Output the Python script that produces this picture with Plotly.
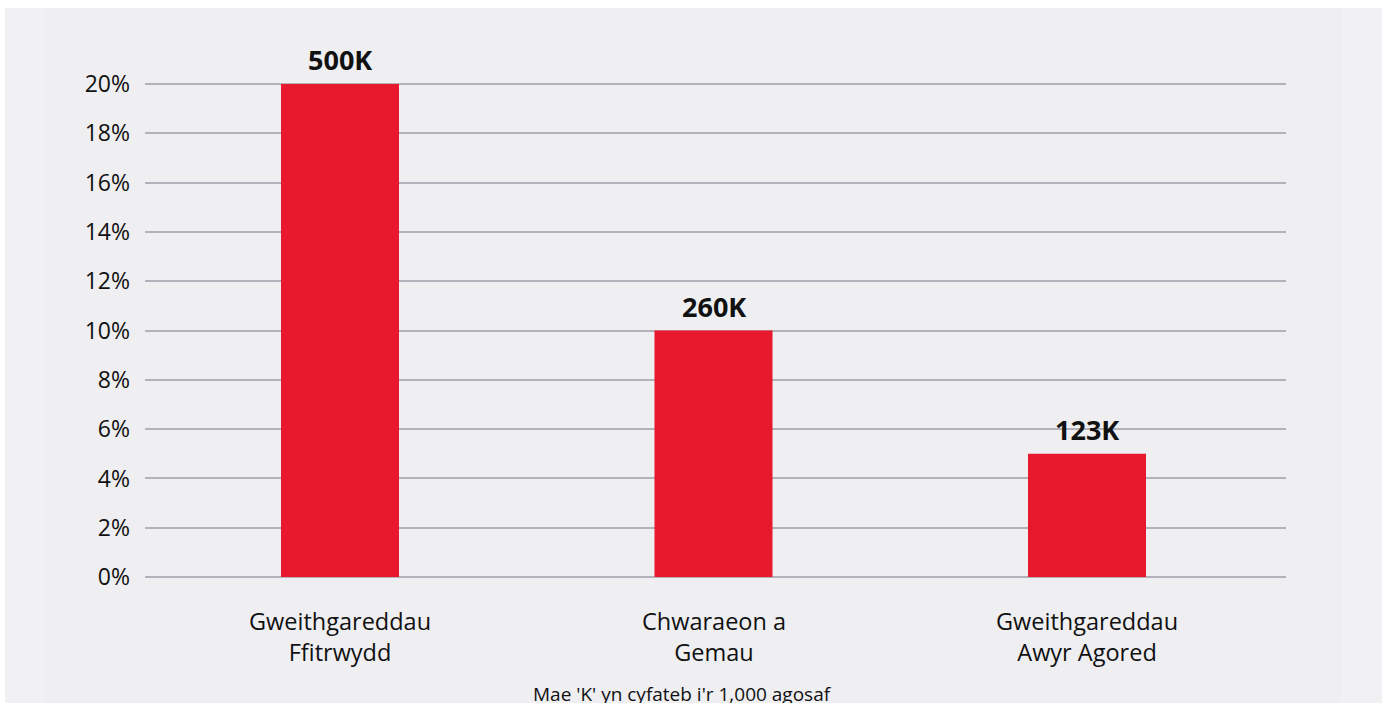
import plotly.graph_objects as go

categories = ["Gweithgareddau<br>Ffitrwydd", "Chwaraeon a<br>Gemau", "Gweithgareddau<br>Awyr Agored"]
shares = [20, 10, 5]
value_labels = ["500K", "260K", "123K"]
tick_values = [0, 2, 4, 6, 8, 10, 12, 14, 16, 18, 20]
tick_labels = [f"{v}%" for v in tick_values]
footnote = "Mae 'K' yn cyfateb i'r 1,000 agosaf"

FONT = "'Open Sans', 'Noto Sans', sans-serif"
RED = "#e8192c"
PANEL = "#efeff2"
INK = "#111111"

W, H = 1387, 703
L, R, T, B = 145, 101, 79, 121
pw, ph = W - L - R, H - T - B

def px_x(px):
    return (px - L) / pw

def px_y(py):
    return (H - B - py) / ph

xpos = list(range(len(categories)))

fig = go.Figure()
fig.add_trace(go.Bar(
    x=xpos, y=shares, width=0.316,
    marker=dict(color=RED, line=dict(width=0)),
    hoverinfo="skip",
))

annotations = []

# bold value labels above each bar
for x, v, t in zip(xpos, shares, value_labels):
    annotations.append(dict(
        x=x, y=v, text=f"<b>{t}</b>", xref="x", yref="y",
        xanchor="center", yanchor="bottom", yshift=4, showarrow=False,
        font=dict(family=FONT, size=27, color=INK)))

# two-line category labels under the axis
for x, name in zip(xpos, categories):
    annotations.append(dict(
        x=x, y=px_y(603), text=name, xref="x", yref="paper",
        xanchor="center", yanchor="top", showarrow=False, align="center",
        font=dict(family=FONT, size=23.5, color=INK)))

annotations.append(dict(
    text=footnote, xref="paper", yref="paper", x=px_x(682), y=px_y(694),
    xanchor="center", yanchor="middle", showarrow=False,
    font=dict(family=FONT, size=19, color=INK)))

shapes = [
    # white margins around the grey panel
    dict(type="rect", xref="paper", yref="paper", x0=px_x(0), x1=px_x(W), y0=px_y(8), y1=px_y(0),
         fillcolor="white", line=dict(width=0), layer="below"),
    dict(type="rect", xref="paper", yref="paper", x0=px_x(0), x1=px_x(5), y0=px_y(H), y1=px_y(0),
         fillcolor="white", line=dict(width=0), layer="below"),
    dict(type="rect", xref="paper", yref="paper", x0=px_x(1382), x1=px_x(W), y0=px_y(H), y1=px_y(0),
         fillcolor="white", line=dict(width=0), layer="below"),
    # slightly lighter side bands
    dict(type="rect", xref="paper", yref="paper", x0=px_x(5), x1=px_x(44), y0=px_y(H), y1=px_y(8),
         fillcolor="#f1f1f3", line=dict(width=0), layer="below"),
    dict(type="rect", xref="paper", yref="paper", x0=px_x(1342), x1=px_x(1382), y0=px_y(H), y1=px_y(8),
         fillcolor="#f1f1f3", line=dict(width=0), layer="below"),
]

fig.update_layout(
    width=W, height=H,
    margin=dict(l=L, r=R, t=T, b=B, pad=0),
    paper_bgcolor=PANEL, plot_bgcolor="rgba(0,0,0,0)",
    showlegend=False,
    shapes=shapes,
    annotations=annotations,
    xaxis=dict(
        range=[-(340 - L) / 373.5, 2 + (L + pw - 1087) / 373.5],
        tickmode="array", tickvals=xpos, showticklabels=False,
        showgrid=False, zeroline=False, showline=False, ticks="",
        fixedrange=True,
    ),
    yaxis=dict(
        range=[-0.2, 20.2], tickmode="array", tickvals=tick_values, ticktext=tick_labels,
        tickfont=dict(family=FONT, size=23, color=INK),
        showgrid=True, gridcolor="#b3b2bb", gridwidth=1.5,
        zeroline=False, showline=False, ticks="", ticklabelstandoff=14,
        fixedrange=True,
    ),
)

fig.write_html("out.html")
